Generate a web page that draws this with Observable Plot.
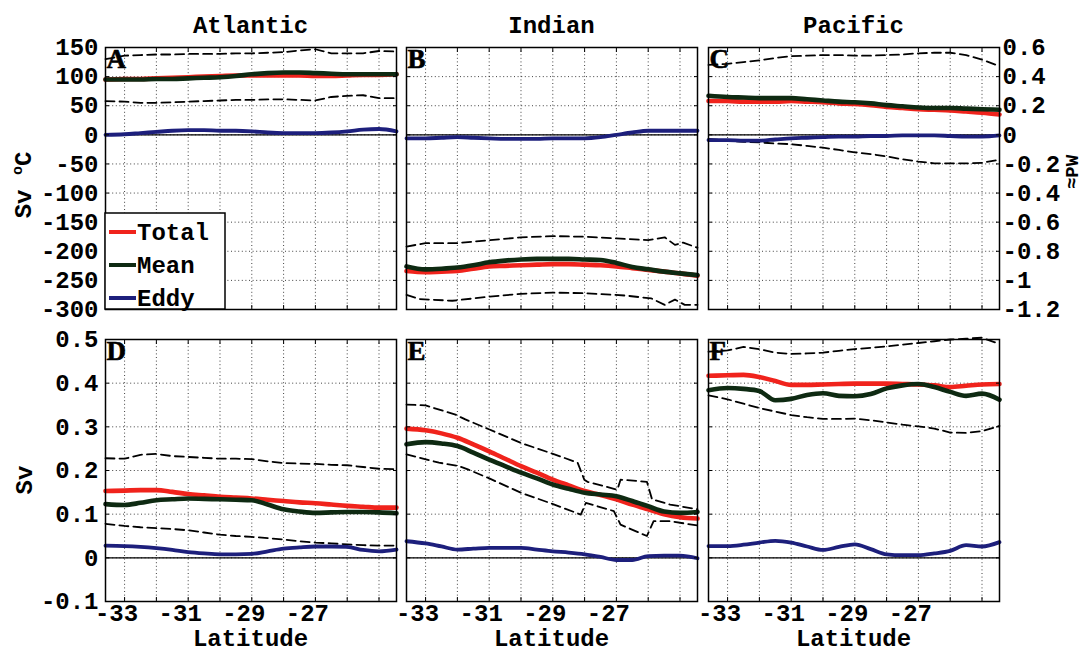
<!DOCTYPE html>
<html><head><meta charset="utf-8">
<script src="https://cdn.jsdelivr.net/npm/d3@7"></script>
<script src="https://cdn.jsdelivr.net/npm/@observablehq/plot@0.6"></script>
<style>
body{margin:0;background:#fff;}
#root{position:relative;width:1086px;height:652px;overflow:hidden;background:#fff;}
.pan{position:absolute;}
</style></head><body><div id="root"></div>
<script>
// ---- data ----
const lat = [-33.6,-33,-32.5,-32,-31.5,-31,-30.5,-30,-29.5,-29,-28.5,-28,-27.5,-27,-26.5,-26,-25.5,-25,-24.45];
const latGrid = [-33,-32,-31,-30,-29,-28,-27,-26,-25];
const latTicks = [-33,-31,-29,-27];
const heatTicks = [-300,-250,-200,-150,-100,-50,0,50,100,150];
const pwTicks = [0.6,0.4,0.2,0,-0.2,-0.4,-0.6,-0.8,-1,-1.2];
const svTicks = [-0.1,0,0.1,0.2,0.3,0.4,0.5];
const svcPerPw = 250;
const oceans = ["Atlantic","Indian","Pacific"];
const seriesNames = ["Total","Mean","Eddy"];
const seriesColors = ["#f0231c","#0e2a12","#1d1f7c"];

// A: Atlantic heat transport (Sv degC)
const aTotal = [95,96,96,97,98,99,100,101,102,102,102,102,102,101,101,102,103,103,104];
const aMean  = [95,95,95,96,96,97,98,99,101,104,106,107,107,106,105,104,104,104,104];
const aEddy  = [0,1,3,5,7,8,8,7,7,6,4,3,3,3,4,6,9,10,6];
const aUpper = [130,136,137,138,138,139,139,139,140,140,141,142,145,147,140,140,140,144,143];
const aLower = [58,57,55,55,56,57,58,59,60,60,61,61,60,59,65,67,68,63,63];
// B: Indian
const bTotal = [-234,-236,-235,-234,-230,-226,-225,-224,-223,-222,-222,-223,-224,-226,-229,-232,-235,-238,-242];
const bMean  = [-226,-231,-230,-228,-224,-219,-216,-214,-213,-213,-213,-214,-215,-220,-227,-231,-235,-238,-241];
const bEddy  = [-6,-6,-5,-4,-5,-6,-7,-7,-7,-6,-6,-6,-4,0,4,7,7,7,7];
const bUpperLat = [-33.6,-33,-32,-31,-30,-29,-28,-27,-26,-25.48,-25.16,-24.9,-24.45];
const bUpper    = [-192,-186,-186,-181,-176,-174,-175,-178,-181,-176,-189,-185,-194];
const bLowerLat = [-33.6,-33.2,-32.16,-31,-30,-29,-28,-26.73,-25.9,-25.48,-25.16,-24.85,-24.45];
const bLower    = [-275,-282,-285,-278,-273,-271,-272,-276,-281,-292,-283,-292,-292];
// C: Pacific
const cTotal = [58,58,57,57,57,58,57,56,54,53,51,48,46,44,43,42,40,38,35];
const cMean  = [67,65,64,63,63,63,61,59,57,56,54,51,49,47,46,46,45,44,43];
const cEddy  = [-9,-9,-10,-10,-8,-6,-5,-4,-3,-3,-2,-2,-1,-1,-1,-2,-3,-3,-1];
const cUpper = [120,122,125,128,132,135,136,137,137,136,136,137,138,140,141,141,137,129,118];
const cLower = [-7,-10,-12,-13,-15,-16,-19,-22,-26,-30,-33,-37,-42,-46,-49,-49,-49,-48,-43];
// D: Atlantic volume transport (Sv)
const dTotal = [.153,.154,.155,.155,.151,.146,.143,.140,.138,.136,.133,.130,.127,.125,.122,.119,.117,.115,.115];
const dMean  = [.123,.121,.126,.132,.134,.136,.135,.134,.133,.132,.122,.111,.106,.103,.104,.105,.105,.104,.102];
const dEddy  = [.028,.027,.025,.022,.018,.013,.010,.008,.008,.009,.015,.021,.024,.026,.026,.025,.018,.015,.019];
const dUpper = [.228,.227,.236,.238,.233,.231,.229,.227,.227,.226,.221,.217,.216,.215,.213,.212,.208,.204,.203];
const dLower = [.078,.073,.070,.068,.066,.063,.058,.053,.050,.048,.045,.042,.038,.035,.033,.031,.029,.028,.028];
// E: Indian
const eTotal = [.296,.292,.285,.275,.260,.244,.227,.210,.195,.179,.166,.153,.144,.134,.122,.111,.100,.093,.090];
const eMean  = [.260,.265,.262,.256,.241,.225,.210,.195,.182,.168,.158,.149,.145,.141,.130,.118,.106,.103,.105];
const eEddy  = [.038,.033,.026,.019,.021,.023,.023,.023,.019,.015,.012,.008,.002,-.005,-.005,.004,.005,.005,-.001];
const eUpperLat = [-33.6,-33,-32.06,-31.75,-31.03,-30,-28.95,-28.22,-28.01,-27.91,-26.97,-26.87,-26.04,-25.88,-25.31,-24.45];
const eUpper    = [.351,.349,.328,.317,.295,.263,.237,.218,.179,.174,.156,.179,.174,.134,.122,.111];
const eLowerLat = [-33.6,-32.58,-31.96,-31.65,-31.03,-30,-28.95,-28.12,-27.96,-27.08,-26.87,-26.04,-25.83,-25.31,-24.45];
const eLower    = [.237,.218,.210,.202,.183,.149,.122,.099,.126,.107,.076,.050,.084,.084,.074];
// F: Pacific
const fTotal = [.417,.418,.419,.414,.405,.396,.396,.397,.398,.399,.399,.399,.398,.397,.395,.391,.394,.397,.398];
const fMean  = [.384,.389,.387,.382,.361,.364,.373,.377,.371,.370,.375,.388,.395,.398,.391,.380,.371,.376,.362];
const fEddy  = [.027,.027,.030,.035,.039,.035,.026,.018,.025,.031,.020,.008,.006,.006,.010,.016,.029,.026,.036];
const fUpper = [.472,.475,.483,.478,.470,.467,.468,.470,.474,.478,.481,.484,.488,.492,.496,.500,.502,.504,.490];
const fLower = [.372,.363,.353,.343,.335,.327,.322,.318,.318,.319,.315,.310,.305,.301,.296,.287,.286,.290,.302];

// ---- layout ----
const W = 1086, H = 652;
const colLeft = [105, 406, 708];
const rowTop = [47, 339];
const frameW = 291, frameH = 262;
const mL = 100, mR = 100, mT = 12, mB = 50;
const xDomain = [-33.6, -24.45];
const mono = "'Liberation Mono', 'DejaVu Sans Mono', monospace";
const fmt = d => String(+d.toFixed(2));
const blank = () => "";

const panels = [
  {letter:"A", col:0, row:0, yDomain:[-300,150], yTicks:heatTicks, left:true,
   lines:[aTotal,aMean,aEddy], dashed:[[lat,aUpper],[lat,aLower]]},
  {letter:"B", col:1, row:0, yDomain:[-300,150], yTicks:heatTicks,
   lines:[bTotal,bMean,bEddy], dashed:[[bUpperLat,bUpper],[bLowerLat,bLower]]},
  {letter:"C", col:2, row:0, yDomain:[-300,150], yTicks:heatTicks, right:true,
   lines:[cTotal,cMean,cEddy], dashed:[[lat,cUpper],[lat,cLower]]},
  {letter:"D", col:0, row:1, yDomain:[-0.1,0.5], yTicks:svTicks, left:true, bottom:true,
   lines:[dTotal,dMean,dEddy], dashed:[[lat,dUpper],[lat,dLower]]},
  {letter:"E", col:1, row:1, yDomain:[-0.1,0.5], yTicks:svTicks, bottom:true,
   lines:[eTotal,eMean,eEddy], dashed:[[eUpperLat,eUpper],[eLowerLat,eLower]]},
  {letter:"F", col:2, row:1, yDomain:[-0.1,0.5], yTicks:svTicks, bottom:true,
   lines:[fTotal,fMean,fEddy], dashed:[[lat,fUpper],[lat,fLower]]},
];

const root = document.getElementById("root");
const dotted = {stroke:"#000", strokeOpacity:0.75, strokeWidth:1, strokeDasharray:"1,2.6"};
const widths = [4.6, 4.6, 3.8];
const inTick = {tickSize:-4, tickFormat: blank, label:null, stroke:"#000", strokeWidth:1};

for (const p of panels) {
  const marks = [
    Plot.gridX(latGrid, dotted),
    Plot.gridY(p.yTicks, dotted),
    Plot.ruleY([0], {stroke:"#000", strokeWidth:1.3}),
    ...p.dashed.map(([xs, ys]) => Plot.lineY(ys, {x: xs, stroke:"#000", strokeWidth:1.8, strokeDasharray:"9,5"})),
    ...p.lines.map((ys, i) => Plot.lineY(ys, {x: lat, stroke: seriesColors[i], strokeWidth: widths[i], curve:"monotone-x"})),
    Plot.frame({stroke:"#000", strokeWidth:1.5}),
    Plot.axisX(latGrid, {anchor:"bottom", ...inTick}),
    Plot.axisX(latGrid, {anchor:"top", ...inTick}),
    Plot.axisY(p.yTicks, {anchor:"left", ...inTick}),
    Plot.axisY(p.yTicks, {anchor:"right", ...inTick}),
    Plot.text([p.letter], {frameAnchor:"top-left", text: d => d, dx:1, dy:1, lineAnchor:"top", textAnchor:"start",
      fontFamily:"'Liberation Serif', serif", fontSize:27, fontWeight:"bold", fill:"#000", stroke:"#000", strokeWidth:0.6})
  ];
  if (p.left) marks.push(Plot.axisY(p.yTicks, {anchor:"left", tickSize:0, tickPadding:7, tickFormat: fmt, label:null}));
  if (p.right) marks.push(Plot.axisY(pwTicks.map(v => Math.round(v * svcPerPw)), {anchor:"right", tickSize:0, tickPadding:3,
      tickFormat: d => fmt(d / svcPerPw), textAnchor:"start", label:null}));
  if (p.bottom) marks.push(Plot.axisX(latTicks, {anchor:"bottom", tickSize:0, tickPadding:2, tickFormat: d => String(d), dx:-8, label:null}));
  const chart = Plot.plot({
    width: frameW + mL + mR, height: frameH + mT + mB,
    marginLeft: mL, marginRight: mR, marginTop: mT, marginBottom: mB,
    x: {domain: xDomain},
    y: {domain: p.yDomain},
    style: {background:"transparent", overflow:"visible", fontFamily: mono, fontSize:"24px", fontWeight:"bold", color:"#000"},
    marks
  });
  const div = document.createElement("div");
  div.className = "pan";
  div.style.left = (colLeft[p.col] - mL) + "px";
  div.style.top = (rowTop[p.row] - mT) + "px";
  div.style.width = (frameW + mL + mR) + "px";
  div.appendChild(chart);
  root.appendChild(div);
}

// ---- overlay: titles, axis labels, legend ----
const svg = d3.select(root).append("svg")
  .attr("width", W).attr("height", H)
  .style("position","absolute").style("left","0").style("top","0")
  .style("font-family", mono).style("font-weight","bold");

oceans.forEach((t, i) => {
  svg.append("text").attr("x", colLeft[i] + frameW/2).attr("y", rowTop[0] - 14)
    .attr("text-anchor","middle").attr("font-size", 24).text(t);
  svg.append("text").attr("x", colLeft[i] + frameW/2).attr("y", 646)
    .attr("text-anchor","middle").attr("font-size", 24).text("Latitude");
});
const ylab = svg.append("text").attr("transform","translate(31,185) rotate(-90)")
  .attr("text-anchor","middle").attr("font-size", 24);
ylab.append("tspan").text("Sv ");
ylab.append("tspan").attr("font-size", 15).attr("dy", -9).text("o");
ylab.append("tspan").attr("dy", 9).text("C");
svg.append("text").attr("transform","translate(32,480) rotate(-90)")
  .attr("text-anchor","middle").attr("font-size", 24).text("Sv");
svg.append("text").attr("transform","translate(1078,172) rotate(-90)")
  .attr("text-anchor","middle").attr("font-size", 19).text("≈PW");

// legend (panel A)
const lgX = colLeft[0], lgY = 213, lgW = 120, lgH = rowTop[0] + frameH - 213;
svg.append("rect").attr("x", lgX).attr("y", lgY).attr("width", lgW).attr("height", lgH)
  .attr("fill","#fff").attr("stroke","#000").attr("stroke-width",1.5);
seriesNames.forEach((n, i) => {
  const cy = lgY + 19 + i * 33;
  svg.append("line").attr("x1", lgX + 4).attr("x2", lgX + 31).attr("y1", cy).attr("y2", cy)
    .attr("stroke", seriesColors[i]).attr("stroke-width", 4);
  svg.append("text").attr("x", lgX + 32).attr("y", cy + 8).attr("font-size", 24).text(n);
});
</script>
</body></html>
